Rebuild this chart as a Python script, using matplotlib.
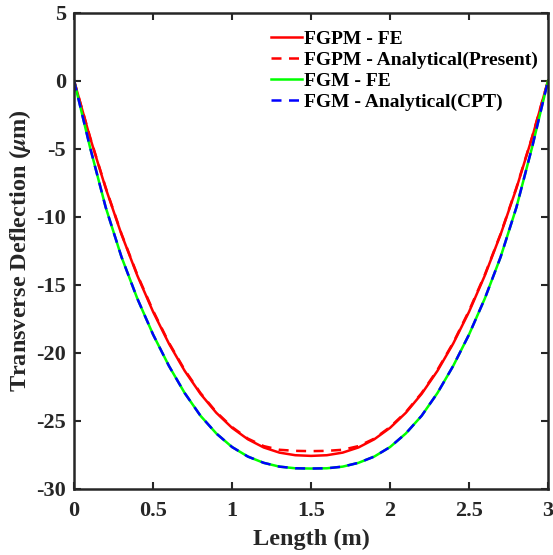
import matplotlib
matplotlib.use('Agg')
import matplotlib.pyplot as plt
import numpy as np
from matplotlib.ticker import FormatStrFormatter

plt.rcParams['font.family'] = 'Liberation Serif'
plt.rcParams['font.weight'] = 'bold'
plt.rcParams['mathtext.fontset'] = 'stix'

# values, every 0.1 m
length = [0.0, 0.1, 0.2, 0.3, 0.4, 0.5, 0.6, 0.7, 0.8, 0.9, 1.0,
          1.1, 1.2, 1.3, 1.4, 1.5, 1.6, 1.7, 1.8, 1.9, 2.0,
          2.1, 2.2, 2.3, 2.4, 2.5, 2.6, 2.7, 2.8, 2.9, 3.0]

fgpm_fe = [0.0, -4.14, -7.90, -11.29, -14.31, -16.98, -19.31, -21.32, -23.01, -24.40, -25.51,
           -26.35, -26.95, -27.33, -27.52, -27.57, -27.52, -27.33, -26.95, -26.35, -25.51,
           -24.40, -23.01, -21.32, -19.31, -16.98, -14.31, -11.29, -7.90, -4.14, 0.0]

fgpm_analytical = [0.0, -4.10, -7.85, -11.25, -14.25, -16.90, -19.25, -21.25, -22.95, -24.35, -25.45,
                   -26.30, -26.85, -27.12, -27.20, -27.22, -27.20, -27.12, -26.85, -26.30, -25.45,
                   -24.35, -22.95, -21.25, -19.25, -16.90, -14.25, -11.25, -7.85, -4.10, 0.0]

fgm_fe = [0.0, -4.85, -9.30, -12.95, -16.00, -18.65, -20.95, -22.95, -24.62, -25.92, -26.92,
          -27.62, -28.08, -28.36, -28.48, -28.50, -28.48, -28.36, -28.08, -27.62, -26.92,
          -25.92, -24.62, -22.95, -20.95, -18.65, -16.00, -12.95, -9.30, -4.85, 0.0]

fgm_cpt = list(fgm_fe)

fig = plt.figure(figsize=(5.53, 5.55), dpi=100)
ax = fig.add_axes([0.134, 0.119, 0.857, 0.858])

ax.plot(length, fgpm_fe, color='#ff0000', lw=1.8, label='FGPM - FE')
ax.plot(length, fgpm_analytical, color='#ff0000', lw=1.8, ls=(0, (4, 3)), label='FGPM - Analytical(Present)')
ax.plot(length, fgm_fe, color='#00ff00', lw=1.8, label='FGM - FE')
ax.plot(length, fgm_cpt, color='#0000ff', lw=1.8, ls=(0, (4, 3)), label='FGM - Analytical(CPT)')

ax.set_xlim(0, 3)
ax.set_ylim(-30, 5)
ax.set_xticks(np.arange(0, 3.01, 0.5))
ax.set_yticks(np.arange(-30, 5.01, 5))
ax.xaxis.set_major_formatter(FormatStrFormatter('%g'))
ax.yaxis.set_major_formatter(FormatStrFormatter('%g'))
ax.tick_params(direction='in', length=5, width=1.5, top=True, right=True,
               labelsize=16, colors='#262626')
ax.tick_params(axis='x', pad=9)
ax.tick_params(axis='y', pad=6)
for lab in ax.get_xticklabels() + ax.get_yticklabels():
    lab.set_fontweight('bold')
for s in ax.spines.values():
    s.set_linewidth(1.8)
    s.set_color('#262626')

ax.set_xlabel('Length (m)', fontsize=17.5, fontweight='bold', color='#262626', labelpad=5)
ax.set_ylabel(r'Transverse Deflection ($\mu$m)', fontsize=17.5, fontweight='bold', color='#262626', labelpad=2)

ax.legend(loc='upper right', bbox_to_anchor=(1.015, 1.0), frameon=False,
          prop={'weight': 'bold', 'size': 14},
          handlelength=1.6, handletextpad=0.1, labelspacing=0.18, borderaxespad=0.5)

plt.savefig('out.png', dpi=100)
